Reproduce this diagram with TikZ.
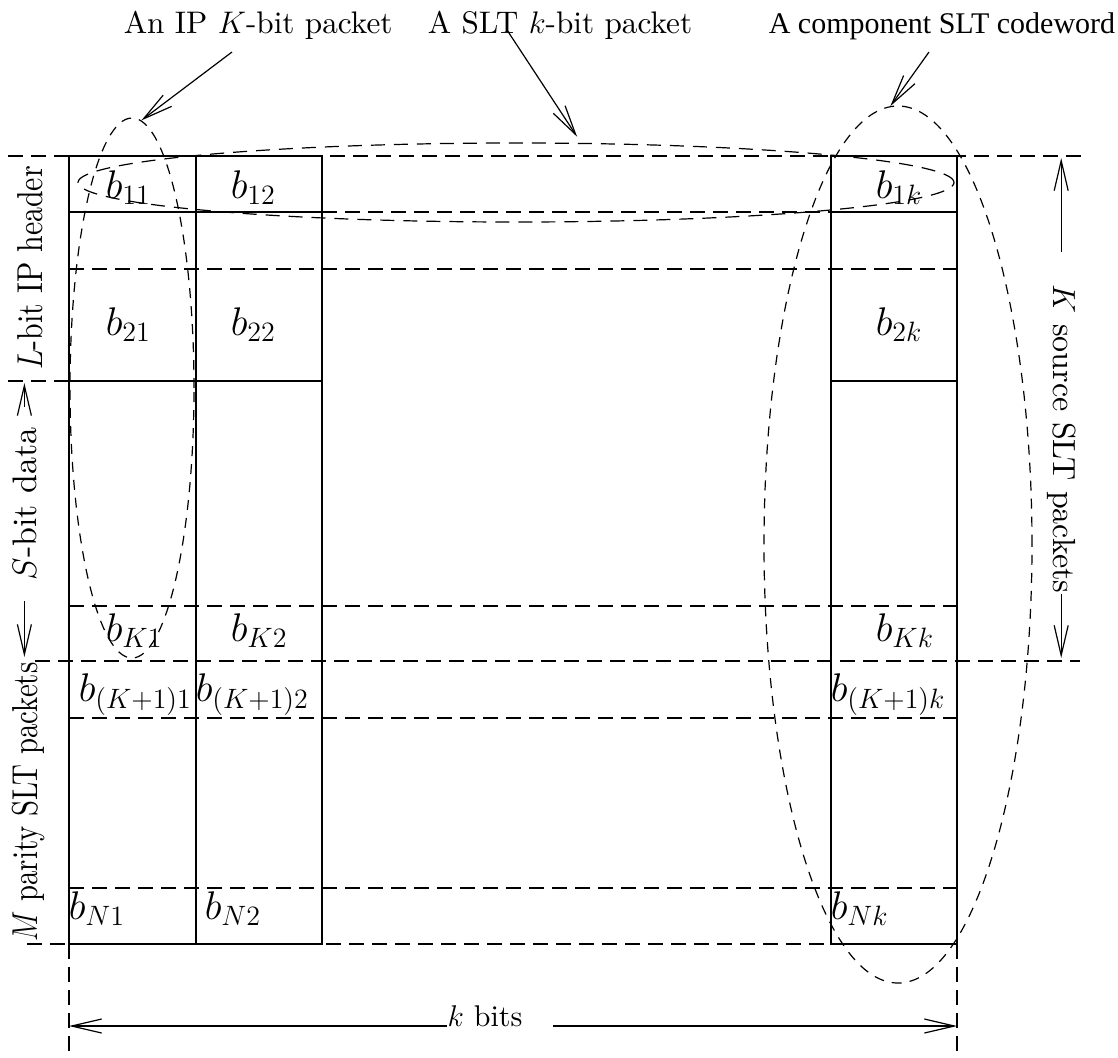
\documentclass[tikz,border=0pt]{standalone}
\usepackage{fix-cm}
\usepackage{graphicx}
\usepackage{fontspec}
\setmainfont{lmroman10-regular.otf}
\newfontfamily\psfont{Liberation Serif}
\usetikzlibrary{arrows.meta,shapes.geometric}

\begin{document}
\begin{tikzpicture}[x=0.5pt, y=-0.5pt, line width=0.8pt,
  lbl/.style={font=\fontsize{15}{18}\selectfont, inner sep=0pt},
  bit/.style={font=\fontsize{20}{24}\selectfont, inner sep=0pt, anchor=base west},
  grid/.style={dash pattern=on 7.5pt off 4pt},
  oval/.style={draw, ellipse, inner sep=0pt, line width=0.6pt, dash pattern=on 5pt off 4pt},
  arr/.style={-{Straight Barb[length=15pt,width=7pt]}, line width=0.6pt}]
\useasboundingbox (0,0) rectangle (1118,1057);
% ---- guide lines
\draw[grid] (8,156) -- (1088,156);
\draw[grid] (8,381) -- (69,381);
\draw[grid] (35,661) -- (1080,661);
\draw[grid] (27,944) -- (957,944);
\foreach \y in {212,269,606,718,888}
  \draw[grid] (69,\y) -- (957,\y);
\draw[grid] (69,944) -- (69,1057);
\draw[grid] (957,944) -- (957,1057);
% ---- the three columns
\foreach \x/\w in {69/127,196/126,831/126} {
  \draw (\x,156) rectangle ++(\w,788);
  \draw (\x,212) -- ++(\w,0) (\x,381) -- ++(\w,0);
}
% ---- bits
\foreach \r/\y in {1/198,2/335,K/641} {
  \node[bit] (b\r1) at (105,\y) {$b_{\r1}$};
  \node[bit] (b\r2) at (230,\y) {$b_{\r2}$};
  \node[bit] (b\r k) at (875,\y) {$b_{\r k}$};
}
\node[bit] (bK11) at (78,701) {$b_{(K+1)1}$};
\node[bit] (bK12) at (195,701) {$b_{(K+1)2}$};
\node[bit] (bK1k) at (830,701) {$b_{(K+1)k}$};
\node[bit] (bN1) at (68,919) {$b_{N1}$};
\node[bit] (bN2) at (204,919) {$b_{N2}$};
\node[bit] (bNk) at (830,919) {$b_{Nk}$};
% ---- groupings
\node[oval, minimum width=62pt, minimum height=270pt] (ippkt) at (132,388) {};
\node[oval, dash pattern=on 7pt off 4.5pt, minimum width=438pt, minimum height=39.5pt] (sltpkt) at (516,182.5) {};
\node[oval, minimum width=134pt, minimum height=438.5pt] (cw) at (898,544.5) {};
% ---- top labels
\node[lbl, anchor=base west, font=\fontsize{15.6}{19}\selectfont] (iptxt) at (123,33) {An IP $K$-bit packet};
\node[lbl, anchor=base west, font=\fontsize{15.6}{19}\selectfont] (slttxt) at (427,33) {A SLT $k$-bit packet};
\node[lbl, anchor=base west, font=\psfont\fontsize{15}{18}\selectfont] (cwtxt) at (768,33) {A component SLT codeword};
\coordinate (ipfrom) at (232,52);
\coordinate (sltfrom) at (507,30);
\coordinate (cwfrom) at (929,52);
\draw[arr] (ipfrom) -- (ippkt.88);
\draw[arr] (sltfrom) -- ([yshift=3pt]sltpkt.33);
\draw[arr] (cwfrom) -- (cw.91);
% ---- side labels
\node[lbl, rotate=90, anchor=base, font=\fontsize{18}{21}\selectfont] (hdr) at (42,268) {\scalebox{0.83}[1]{$L$-bit IP header}};
\node[lbl, rotate=90, anchor=base, font=\fontsize{17}{20}\selectfont] (sdata) at (36,504) {$S$-bit data};
\node[lbl, rotate=90, anchor=base, font=\fontsize{18}{21}\selectfont] (mpar) at (37,802) {\scalebox{0.8}[1]{$M$ parity SLT packets}};
\coordinate (sdtop) at (0,383);
\coordinate (sdbot) at (0,657);
\draw[arr, shorten <=10pt] (sdata.east) -- (sdata.east |- sdtop);
\draw[arr, shorten <=10pt] (sdata.west) -- (sdata.west |- sdbot);
\node[lbl, rotate=-90, anchor=base, font=\fontsize{16}{19}\selectfont] (ksrc) at (1053,439) {$K$ source SLT packets};
\coordinate (ktop) at (0,158);
\coordinate (kbot) at (0,658);
\draw[arr, shorten <=16pt] (ksrc.west) -- (ksrc.west |- ktop);
\draw[arr] (ksrc.east) -- (ksrc.east |- kbot);
% ---- width
\node[lbl, anchor=base] (kbits) at (485,1026) {$k$ bits};
\coordinate (kleft) at (69,1026);
\coordinate (kright) at (957,1026);
\draw[arr] (kbits.base west) -- (kleft);
\draw[arr, shorten <=15pt] (kbits.base east) -- (kright);
\end{tikzpicture}
\end{document}
